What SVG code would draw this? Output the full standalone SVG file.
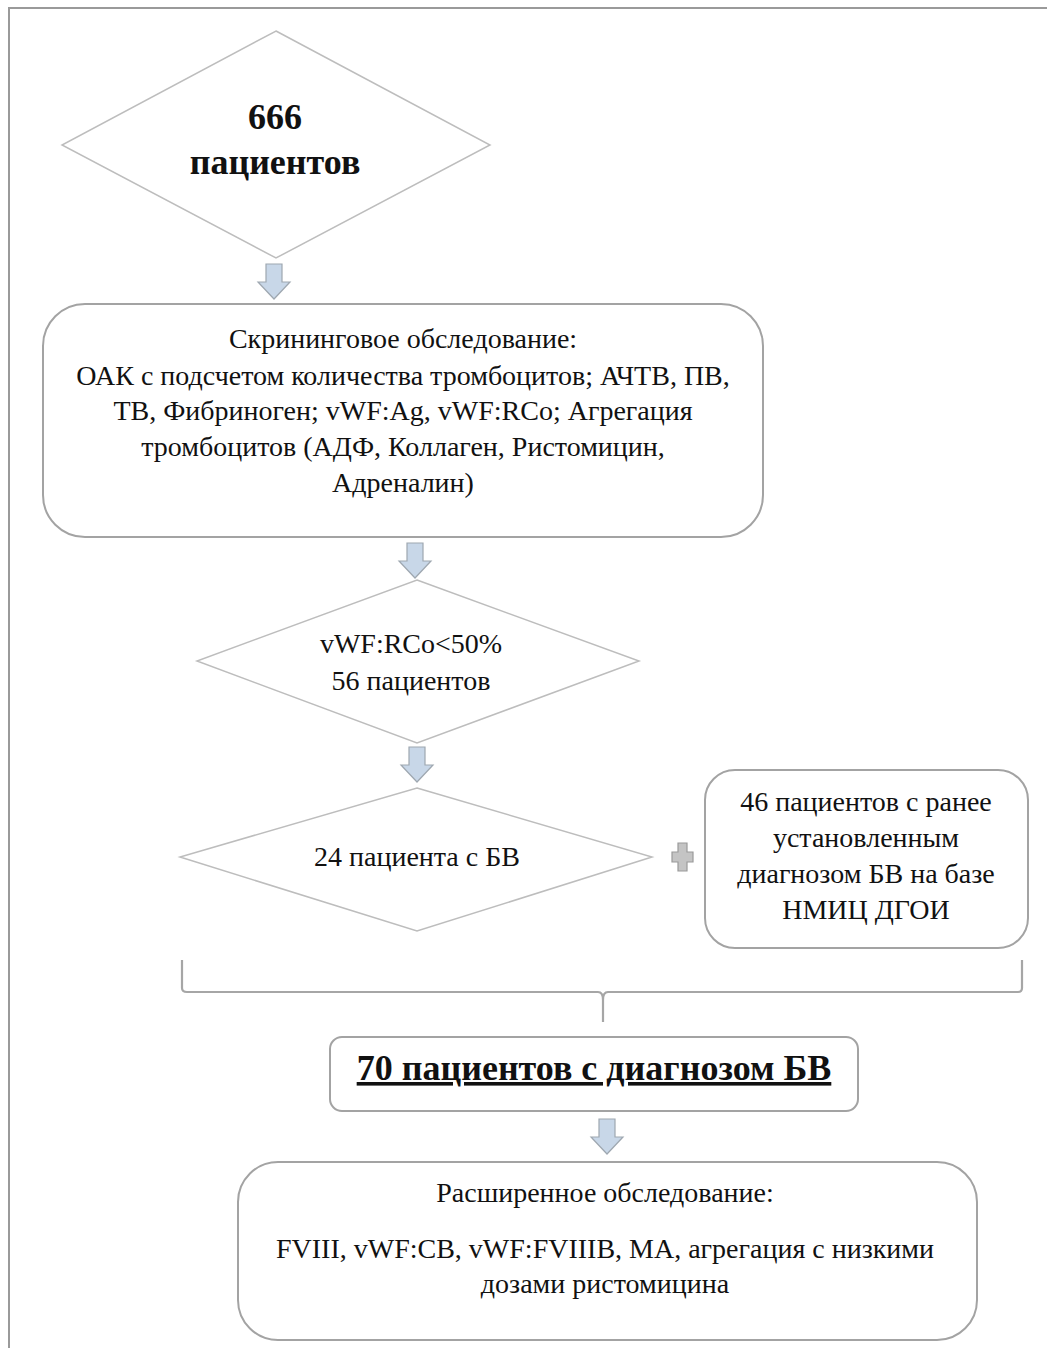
<svg xmlns="http://www.w3.org/2000/svg" width="1047" height="1348" viewBox="0 0 1047 1348">
<style>
.t{font-family:"Liberation Serif","Times New Roman",serif;font-size:28px;fill:#111;text-anchor:middle}
.b{font-weight:bold;font-size:36px}
.dia{fill:#fff;stroke:#bdbdbd;stroke-width:1.5}
.box{fill:#fff;stroke:#a3a3a3;stroke-width:2}
.arr{fill:#c8d7e8;stroke:#9ea7b0;stroke-width:1.2}
</style>
<defs>
<path id="arr" class="arr" d="M-8,0 H8 V18 H16 L0,35 L-16,18 H-8 Z"/>
</defs>
<rect x="0" y="0" width="1047" height="1348" fill="#fff"/>
<path d="M9,1348 V8 H1047" fill="none" stroke="#9a9a9a" stroke-width="2"/>
<g id="connectors">
<use href="#arr" x="274" y="264"/>
<use href="#arr" x="415" y="543"/>
<use href="#arr" x="417" y="747"/>
<use href="#arr" x="607" y="1119"/>
<path d="M672,852 h6 v-9 h9 v9 h6 v10 h-6 v9 h-9 v-9 h-6 z" fill="#c4c4c4" stroke="#9a9a9a" stroke-width="1.2"/>
<path d="M182,960 V988 Q182,992 187,992 H598 Q603,992 603,1000 V1022 M603,1000 Q603,992 608,992 H1018 Q1022,992 1022,988 V960" fill="none" stroke="#a6a6a6" stroke-width="2.2"/>
</g>
<g id="n1">
<polygon class="dia" points="276,31 490,145 276,258 62,145"/>
<text class="t b" x="275" y="129">666</text>
<text class="t b" x="275" y="174">пациентов</text>
</g>
<g id="n2">
<rect class="box" x="43" y="304" width="720" height="233" rx="42"/>
<text class="t" x="403" y="348">Скрининговое обследование:</text>
<text class="t" x="403" y="385">ОАК с подсчетом количества тромбоцитов; АЧТВ, ПВ,</text>
<text class="t" x="403" y="420">ТВ, Фибриноген; vWF:Ag, vWF:RCo; Агрегация</text>
<text class="t" x="403" y="456">тромбоцитов (АДФ, Коллаген, Ристомицин,</text>
<text class="t" x="403" y="492">Адреналин)</text>
</g>
<g id="n3">
<polygon class="dia" points="417,580 639,661 417,743 197,661"/>
<text class="t" x="411" y="653">vWF:RCo&lt;50%</text>
<text class="t" x="411" y="690">56 пациентов</text>
</g>
<g id="n4">
<polygon class="dia" points="417,788 652,857 417,931 180,857"/>
<text class="t" x="417" y="866">24 пациента с БВ</text>
</g>
<g id="n5">
<rect class="box" x="705" y="770" width="323" height="178" rx="30"/>
<text class="t" x="866" y="811">46 пациентов с ранее</text>
<text class="t" x="866" y="847">установленным</text>
<text class="t" x="866" y="883">диагнозом БВ на базе</text>
<text class="t" x="866" y="919">НМИЦ ДГОИ</text>
</g>
<g id="n6">
<rect class="box" x="330" y="1037" width="528" height="74" rx="12"/>
<text class="t b" x="594" y="1080" text-decoration="underline">70 пациентов с диагнозом БВ</text>
</g>
<g id="n7">
<rect class="box" x="238" y="1162" width="739" height="178" rx="40"/>
<text class="t" x="605" y="1202">Расширенное обследование:</text>
<text class="t" x="605" y="1258">FVIII, vWF:CB, vWF:FVIIIB, МА, агрегация с низкими</text>
<text class="t" x="605" y="1293">дозами ристомицина</text>
</g>
</svg>
